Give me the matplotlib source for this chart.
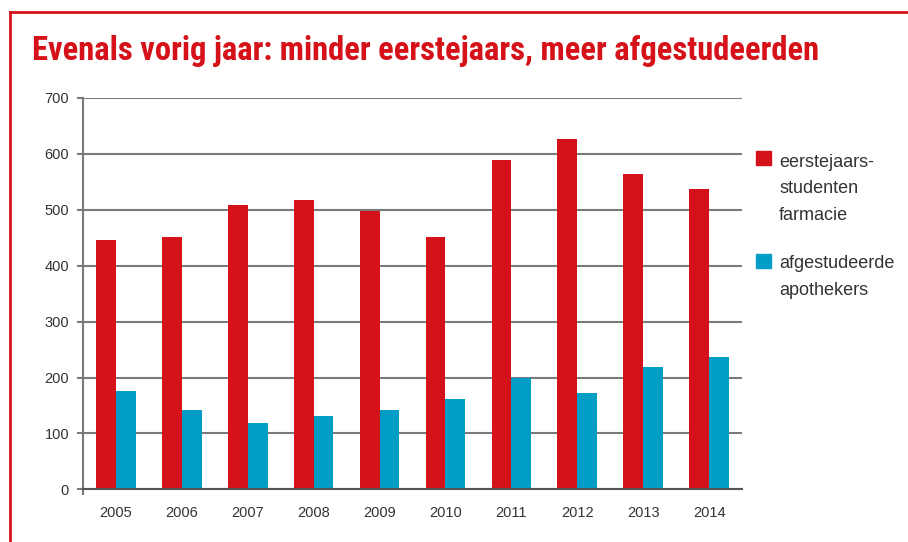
import matplotlib.pyplot as plt
import numpy as np
from matplotlib.patches import Rectangle
from matplotlib.lines import Line2D
from matplotlib import font_manager

years = ['2005', '2006', '2007', '2008', '2009', '2010', '2011', '2012', '2013', '2014']
eerstejaars = [446, 451, 509, 518, 498, 451, 589, 627, 564, 537]
afgestudeerd = [176, 142, 119, 131, 142, 161, 200, 173, 219, 237]
legend_lines = [['eerstejaars-', 'studenten', 'farmacie'], ['afgestudeerde', 'apothekers']]

red = '#d51219'
blue = '#009ec7'
grid_col = '#7a7a7a'
txt_col = '#333333'

# pick a narrow font for the title if there is one
names = set(f.name for f in font_manager.fontManager.ttflist)
title_font = 'Liberation Sans'
for cand in ['Liberation Sans Narrow', 'DejaVu Sans Condensed', 'Roboto Condensed']:
    if cand in names:
        title_font = cand
        break

fig = plt.figure(figsize=(9.08, 5.42), dpi=100)
ax = fig.add_axes([0.0914, 0.0972, 0.7258, 0.722])

x = np.arange(len(years))
w = 0.3
ax.bar(x - w / 2, eerstejaars, w, color=red, zorder=3)
ax.bar(x + w / 2, afgestudeerd, w, color=blue, zorder=3)

ax.set_xlim(-0.5, len(years) - 0.5)
ax.set_ylim(0, 700)
ax.set_yticks(range(0, 701, 100))
ax.set_xticks(x)
ax.set_xticklabels(years)

ax.yaxis.grid(True, color=grid_col, linewidth=1.5, zorder=0)
for s in ['top', 'right']:
    ax.spines[s].set_visible(False)
ax.spines['left'].set_color(grid_col)
ax.spines['left'].set_linewidth(1.5)
ax.spines['left'].set_bounds(-8, 700)
ax.spines['bottom'].set_color('#555555')
ax.spines['bottom'].set_linewidth(1.5)
ax.spines['bottom'].set_zorder(4)

ax.tick_params(axis='y', length=4, width=1.5, color=grid_col, pad=6,
               labelsize=10.5, labelcolor=txt_col)
ax.tick_params(axis='x', length=0, pad=12, labelsize=10.5, labelcolor=txt_col)
for lab in ax.get_xticklabels() + ax.get_yticklabels():
    lab.set_family(['Liberation Sans', 'DejaVu Sans'])

# frame lines
fig.add_artist(Line2D([10 / 908, 1], [1 - 12 / 542, 1 - 12 / 542], color=red, lw=2))
fig.add_artist(Line2D([10 / 908, 10 / 908], [0, 1 - 12 / 542], color=red, lw=2))

title = fig.text(32 / 908, 1 - 51 / 542, 'Evenals vorig jaar: minder eerstejaars, meer afgestudeerden',
                 color=red, fontsize=20, fontweight='bold', va='center', ha='left',
                 family=[title_font, 'DejaVu Sans'])
# fit the title to the width it has in the original
r = fig.canvas.get_renderer()
tw = title.get_window_extent(r).width
title.set_fontsize(min(26, 20 * 786 / tw))

# legend
fig.add_artist(Rectangle((756 / 908, 1 - 165 / 542), 15 / 908, 14 / 542,
                         transform=fig.transFigure, color=red))
fig.add_artist(Rectangle((756 / 908, 1 - 268 / 542), 15 / 908, 14 / 542,
                         transform=fig.transFigure, color=blue))
starts = [166.7, 268.3]
for lines, y0 in zip(legend_lines, starts):
    for i, line in enumerate(lines):
        fig.text(779 / 908, 1 - (y0 + i * 26.5) / 542, line, color=txt_col,
                 fontsize=13, va='baseline', ha='left',
                 family=['Liberation Sans', 'DejaVu Sans'])

fig.savefig('out.png', dpi=100)
